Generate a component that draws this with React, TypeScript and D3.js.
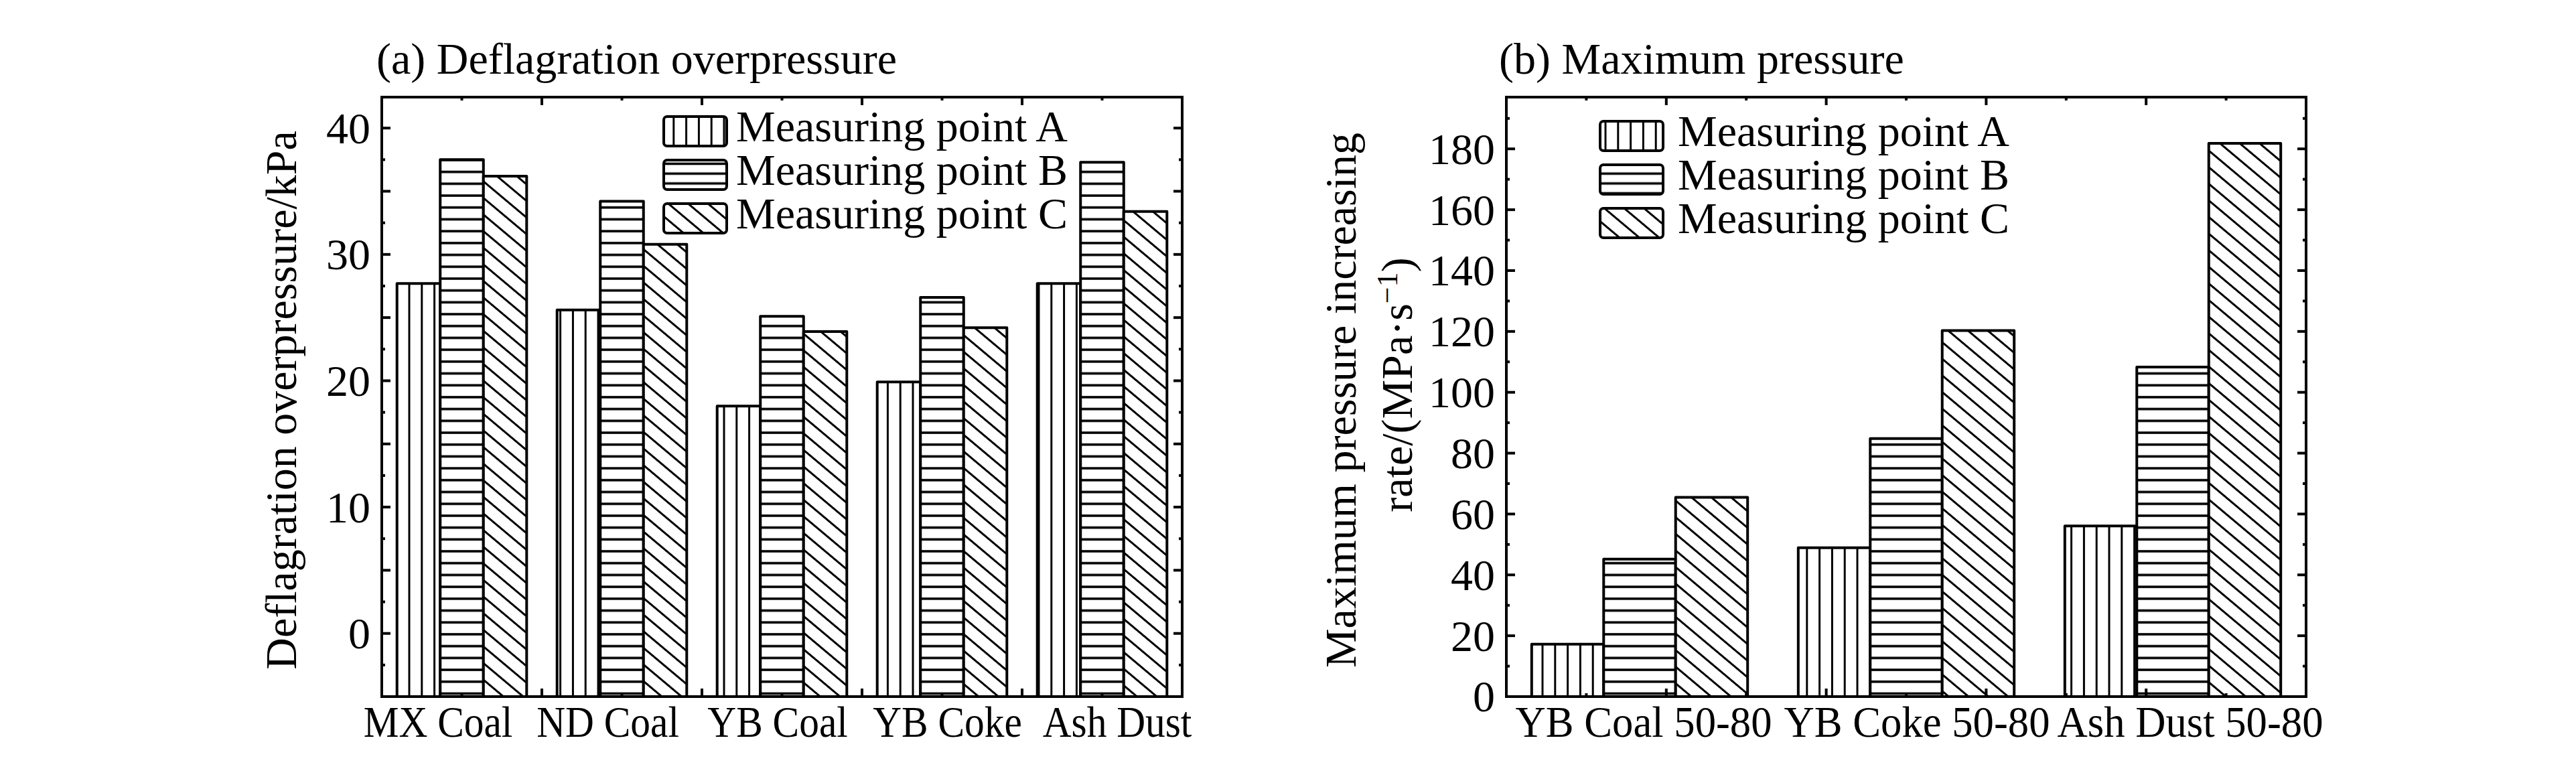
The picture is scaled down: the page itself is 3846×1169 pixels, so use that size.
import React from 'react';
import * as d3 from 'd3';

// ---------- DATA ----------
const seriesKeys = ['A', 'B', 'C'];
const seriesNames = ['Measuring point A', 'Measuring point B', 'Measuring point C'];

const catsA = ['MX Coal', 'ND Coal', 'YB Coal', 'YB Coke', 'Ash Dust'];
const overA = [27.7, 25.6, 18.0, 19.9, 27.7];
const overB = [37.5, 34.2, 25.1, 26.6, 37.3];
const overC = [36.2, 30.8, 23.9, 24.2, 33.4];
const ticksA = [0, 10, 20, 30, 40];

const catsB = ['YB Coal 50-80', 'YB Coke 50-80', 'Ash Dust 50-80'];
const rateA = [17.2, 48.9, 56.1];
const rateB = [45.2, 84.8, 108.3];
const rateC = [65.5, 120.3, 181.8];
const ticksB = [0, 20, 40, 60, 80, 100, 120, 140, 160, 180];

const FONT = '"Liberation Serif", "Times New Roman", serif';
const patIds = ['patV', 'patH', 'patD'];

type Cfg = {
  left: number; right: number; top: number; bottom: number;
  domain: [number, number];
  cats: string[];
  values: number[][];
  ticks: number[];
  major: number; minor: number;
  title: string; titleX: number;
  yTitle: { text: React.ReactNode; x: number; dy: number; weight: string; size: number }[];
  labelRange: [number, number];
  labelScaleX: number;
  legendX: number; legendY: number; legendTextDx: number;
};

function Panel({ c }: { c: Cfg }) {
  const y = d3.scaleLinear().domain(c.domain).range([c.bottom, c.top]);
  const xb = d3.scaleBand<string>().domain(c.cats).range([c.left, c.right]).paddingInner(0.19).paddingOuter(0.095);
  const xs = d3.scaleBand<string>().domain(seriesKeys).range([0, xb.bandwidth()]);
  const xl = d3.scalePoint<string>().domain(c.cats).range(c.labelRange);
  const yMid = (c.top + c.bottom) / 2;

  const yTickVals: number[] = [];
  for (let v = Math.ceil(c.domain[0] / c.minor) * c.minor; v <= c.domain[1] + 1e-9; v += c.minor) yTickVals.push(+v.toFixed(4));
  const isMajor = (v: number) => Math.abs(v / c.major - Math.round(v / c.major)) < 1e-6;

  const nX = 10;
  const xTickPos = d3.range(1, nX).map(i => ({ x: c.left + (i * (c.right - c.left)) / nX, long: i % 2 === 0 }));

  return (
    <g>
      {/* bars */}
      {c.cats.map((cat, ci) => (
        <g key={cat}>
          {seriesKeys.map((k, si) => {
            const x = (xb(cat) as number) + (xs(k) as number);
            const w = xs.bandwidth();
            const yt = y(c.values[si][ci]);
            const h = c.bottom - yt;
            return (
              <g key={k}>
                <rect x={x} y={yt} width={w} height={h} fill="#fff" />
                <rect x={x} y={yt} width={w} height={h} fill={`url(#${patIds[si]})`} />
                <rect x={x} y={yt} width={w} height={h} fill="none" stroke="#000" strokeWidth={4} strokeLinejoin="round" />
              </g>
            );
          })}
        </g>
      ))}

      {/* frame */}
      <rect x={c.left} y={c.top} width={c.right - c.left} height={c.bottom - c.top} fill="none" stroke="#000" strokeWidth={4} />

      {/* y ticks left/right */}
      {yTickVals.map(v => {
        const yy = y(v);
        if (yy > c.bottom - 2 || yy < c.top + 2) return null;
        const len = isMajor(v) ? 13 : 5;
        return (
          <g key={v}>
            <line x1={c.left} x2={c.left + len} y1={yy} y2={yy} stroke="#000" strokeWidth={4} />
            <line x1={c.right} x2={c.right - len} y1={yy} y2={yy} stroke="#000" strokeWidth={4} />
          </g>
        );
      })}
      {/* x ticks top/bottom */}
      {xTickPos.map((t, i) => {
        const len = t.long ? 12 : 5;
        return (
          <g key={i}>
            <line x1={t.x} x2={t.x} y1={c.top} y2={c.top + len} stroke="#000" strokeWidth={4} />
            <line x1={t.x} x2={t.x} y1={c.bottom} y2={c.bottom - len} stroke="#000" strokeWidth={4} />
          </g>
        );
      })}

      {/* y tick labels */}
      {c.ticks.map(v => (
        <text key={v} x={c.left - 17} y={y(v)} dy="0.34em" textAnchor="end" fontSize={66} fontFamily={FONT}>{v}</text>
      ))}

      {/* x category labels */}
      {c.cats.map(cat => (
        <text key={cat} transform={`translate(${xl(cat)},${c.bottom + 60}) scale(${c.labelScaleX},1)`} textAnchor="middle" fontSize={66} fontFamily={FONT}>{cat}</text>
      ))}

      {/* title */}
      <text x={c.titleX} y={c.top - 35} fontSize={66} fontFamily={FONT}>{c.title}</text>

      {/* y axis title */}
      {c.yTitle.map((t, i) => (
        <text key={i} transform={`translate(${t.x},${yMid + t.dy}) rotate(-90)`} textAnchor="middle" fontSize={t.size} fontWeight={t.weight} fontFamily={FONT}>{t.text}</text>
      ))}

      {/* legend */}
      {seriesNames.map((name, i) => {
        const by = c.legendY + i * 65;
        return (
          <g key={name}>
            <rect x={c.legendX} y={by} width={94} height={44} rx={5} fill="#fff" />
            <rect x={c.legendX} y={by} width={94} height={44} rx={5} fill={`url(#${patIds[i]}L)`} stroke="#000" strokeWidth={4} />
            <text x={c.legendX + c.legendTextDx} y={by + 37} fontSize={66} fontFamily={FONT}>{name}</text>
          </g>
        );
      })}
    </g>
  );
}

export default function App() {
  const W = 3846, H = 1169;
  const cfgA: Cfg = {
    left: 570, right: 1765, top: 145, bottom: 1040,
    domain: [-5, 42.45],
    cats: catsA,
    values: [overA, overB, overC],
    ticks: ticksA, major: 5, minor: 2.5,
    title: '(a) Deflagration overpressure', titleX: 562,
    yTitle: [{ text: 'Deflagration overpressure/kPa', x: 442, dy: 5, weight: 'normal', size: 66 }],
    labelRange: [654, 1668],
    labelScaleX: 0.9,
    legendX: 991, legendY: 174, legendTextDx: 108,
  };
  const cfgB: Cfg = {
    left: 2249, right: 3443, top: 145, bottom: 1040,
    domain: [0, 197],
    cats: catsB,
    values: [rateA, rateB, rateC],
    ticks: ticksB, major: 20, minor: 10,
    title: '(b) Maximum pressure', titleX: 2238,
    yTitle: [
      { text: 'Maximum pressure increasing', x: 2024, dy: 5, weight: 'normal', size: 66 },
      { text: <>rate/(MPa·s<tspan dy="-22" fontSize={44}>−1</tspan><tspan dy="22">)</tspan></>, x: 2108, dy: -18, weight: 'normal', size: 66 },
    ],
    labelRange: [2454, 3270],
    labelScaleX: 0.95,
    legendX: 2389, legendY: 181, legendTextDx: 116,
  };

  return (
    <svg width={W} height={H} style={{ position: 'absolute', left: 0, top: 0, background: '#fff' }}>
      <defs>
        <pattern id="patV" patternUnits="userSpaceOnUse" width={18.8} height={10}>
          <line x1={9.4} x2={9.4} y1={-1} y2={11} stroke="#000" strokeWidth={3} />
        </pattern>
        <pattern id="patH" patternUnits="userSpaceOnUse" width={10} height={17.7}>
          <line x1={-1} x2={11} y1={8.85} y2={8.85} stroke="#000" strokeWidth={3.6} />
        </pattern>
        <pattern id="patD" patternUnits="userSpaceOnUse" width={20} height={19} patternTransform="rotate(40)">
          <line x1={-1} x2={21} y1={9.5} y2={9.5} stroke="#000" strokeWidth={3} />
        </pattern>
        <pattern id="patVL" patternUnits="userSpaceOnUse" width={18.8} height={10}>
          <line x1={9.4} x2={9.4} y1={-1} y2={11} stroke="#000" strokeWidth={3} />
        </pattern>
        <pattern id="patHL" patternUnits="userSpaceOnUse" width={10} height={14.7} y={2}>
          <line x1={-1} x2={11} y1={7.3} y2={7.3} stroke="#000" strokeWidth={3.6} />
        </pattern>
        <pattern id="patDL" patternUnits="userSpaceOnUse" width={20} height={19} patternTransform="rotate(40)">
          <line x1={-1} x2={21} y1={9.5} y2={9.5} stroke="#000" strokeWidth={3} />
        </pattern>
      </defs>
      <rect x={0} y={0} width={W} height={H} fill="#fff" />
      <Panel c={cfgA} />
      <Panel c={cfgB} />
    </svg>
  );
}
